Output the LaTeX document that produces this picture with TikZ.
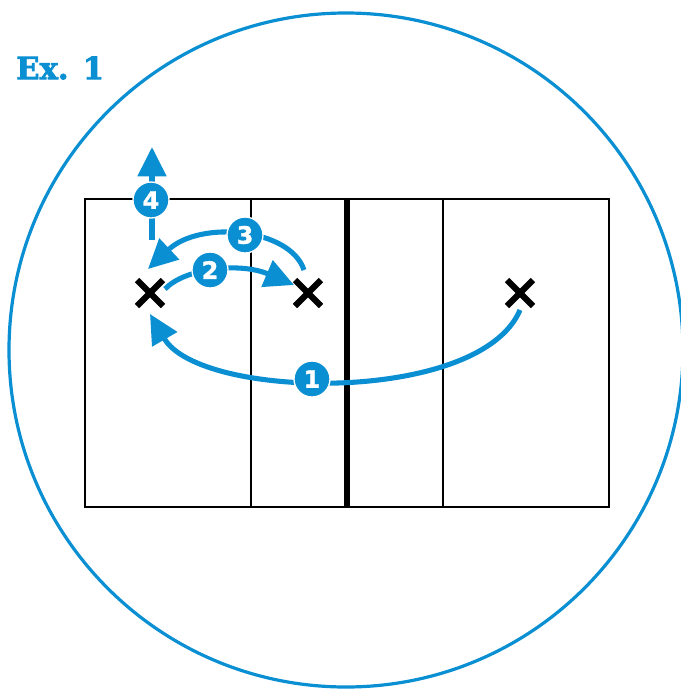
\documentclass[tikz,border=0pt]{standalone}
\usepackage{fontspec}
\usetikzlibrary{arrows.meta,calc}
\newfontfamily\slabfont[FakeBold=2.5]{DejaVu Serif}
\newfontfamily\badgefont[FakeBold=1.5]{DejaVu Sans}
\definecolor{cblue}{HTML}{0A8FD2}
\tikzset{
  courtline/.style={line width=1.8pt, black},
  netline/.style={line width=3.8pt, black},
  xmark/.style={line width=4.6pt, black},
  move/.style={line width=3.8pt, cblue, -{Triangle[length=22pt,width=21pt]}},
  badge/.style={circle, fill=cblue, draw=white, line width=1pt, minimum size=27pt, inner sep=0pt, text=white, font=\badgefont\bfseries\fontsize{18}{18}\selectfont},
}
\begin{document}
\begin{tikzpicture}[x=0.75pt,y=-0.75pt]
\useasboundingbox (0,0) rectangle (681,690);
\begin{scope}
\clip (0,0) rectangle (681,690);
\draw[cblue, line width=2.4pt] (346,350) circle[radius=337];
\end{scope}
\node[anchor=west, text=cblue, font=\slabfont\bfseries\fontsize{23}{23}\selectfont, inner sep=0pt] (title) at (16,68) {Ex. 1};
% court
\draw[courtline] (85,199) rectangle (609,507);
\draw[courtline] (251,199) -- (251,507);
\draw[courtline] (443,199) -- (443,507);
\draw[netline] (347,199) -- (347,507);
% players
\coordinate (pA) at (150,293);
\coordinate (pB) at (308,293);
\coordinate (pC) at (520,293);
\foreach \p in {pA,pB,pC}{
  \draw[xmark] ($(\p)+(-13,-13)$) -- ($(\p)+(13,13)$);
  \draw[xmark] ($(\p)+(-13,13)$) -- ($(\p)+(13,-13)$);
}
% path endpoints
\coordinate (s1) at (520,310);
\coordinate (e1) at (150,314);
\coordinate (s2) at (165,289);
\coordinate (e2) at (294,285);
\coordinate (s3) at (304,270);
\coordinate (e3) at (148,269);
\coordinate (s4) at (152,240);
\coordinate (e4) at (152,147);
\draw[move] (s1) .. controls (480,405) and (200,400) .. (e1);
\draw[move] (s2) .. controls (185,268) and (240,262) .. (e2);
\draw[move] (s3) .. controls (290,228) and (200,220) .. (e3);
\draw[move] (s4) -- (e4);
\node[badge] (b1) at (312,379) {1};
\node[badge] (b2) at (210,270) {2};
\node[badge] (b3) at (245,235) {3};
\node[badge] (b4) at (151,200) {4};
\end{tikzpicture}
\end{document}
